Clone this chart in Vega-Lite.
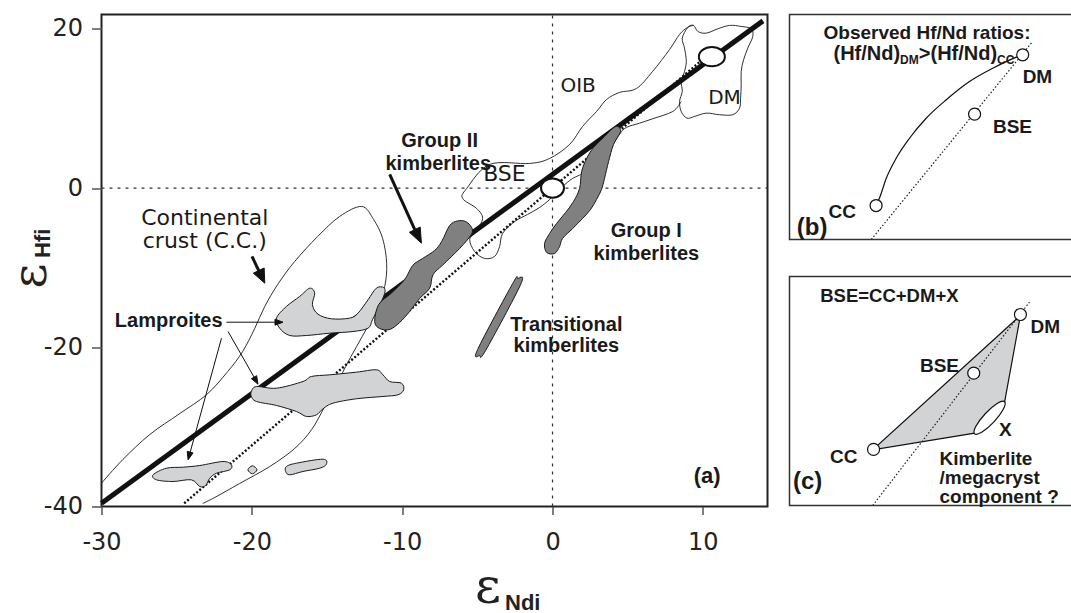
{
  "$schema": "https://vega.github.io/schema/vega-lite/v6.json",
  "padding": {"left": 6.5, "top": 9.5, "right": 0, "bottom": 0},
  "background": "white",
  "config": {"view": {"stroke": null}, "axis": {"grid": false}},
  "spacing": 14,
  "datasets": {
    "zero": [
      {"line": "v", "x": 0, "y": -40}, {"line": "v", "x": 0, "y": 21.8},
      {"line": "h", "x": -30, "y": 0}, {"line": "h", "x": 14.3, "y": 0}
    ],
    "crust": [
      {"i": 1, "x": -30.0, "y": -37.07}, {"i": 2, "x": -28.58, "y": -34.1}, {"i": 3, "x": -26.79, "y": -30.96},
      {"i": 4, "x": -24.79, "y": -28.32}, {"i": 5, "x": -23.0, "y": -25.93}, {"i": 6, "x": -21.6, "y": -23.04},
      {"i": 7, "x": -20.61, "y": -20.53}, {"i": 8, "x": -19.81, "y": -17.64}, {"i": 9, "x": -19.14, "y": -14.87},
      {"i": 10, "x": -18.28, "y": -12.11}, {"i": 11, "x": -17.15, "y": -9.22}, {"i": 12, "x": -15.62, "y": -6.08},
      {"i": 13, "x": -14.16, "y": -3.57}, {"i": 14, "x": -12.69, "y": -2.31}, {"i": 15, "x": -11.9, "y": -3.95},
      {"i": 16, "x": -11.3, "y": -6.33}, {"i": 17, "x": -11.03, "y": -9.47}, {"i": 18, "x": -11.16, "y": -12.36},
      {"i": 19, "x": -11.63, "y": -14.87}, {"i": 20, "x": -12.29, "y": -17.39}, {"i": 21, "x": -13.03, "y": -19.9},
      {"i": 22, "x": -13.76, "y": -22.41}, {"i": 23, "x": -14.42, "y": -24.93}, {"i": 24, "x": -15.15, "y": -27.44},
      {"i": 25, "x": -16.02, "y": -30.33}, {"i": 26, "x": -17.15, "y": -32.71}, {"i": 27, "x": -18.81, "y": -34.98},
      {"i": 28, "x": -20.81, "y": -37.11}, {"i": 29, "x": -22.47, "y": -38.87}, {"i": 30, "x": -23.27, "y": -39.62}
    ],
    "oib": [
      {"i": 1, "x": 8.56, "y": 10.88}, {"i": 2, "x": 8.0, "y": 9.62}, {"i": 3, "x": 6.67, "y": 8.71},
      {"i": 4, "x": 5.79, "y": 8.15}, {"i": 5, "x": 4.91, "y": 7.61}, {"i": 6, "x": 4.46, "y": 6.77},
      {"i": 7, "x": 4.0, "y": 5.48}, {"i": 8, "x": 3.13, "y": 3.72}, {"i": 9, "x": 2.27, "y": 2.09},
      {"i": 10, "x": 1.34, "y": 1.21}, {"i": 11, "x": 0.61, "y": 0.08}, {"i": 12, "x": -0.19, "y": -1.43},
      {"i": 13, "x": -0.86, "y": -2.44}, {"i": 14, "x": -1.66, "y": -3.32}, {"i": 15, "x": -2.52, "y": -4.2},
      {"i": 16, "x": -3.32, "y": -5.7}, {"i": 17, "x": -3.52, "y": -7.34}, {"i": 18, "x": -3.85, "y": -8.59},
      {"i": 19, "x": -4.52, "y": -8.84}, {"i": 20, "x": -5.18, "y": -7.97}, {"i": 21, "x": -5.51, "y": -6.46},
      {"i": 22, "x": -5.11, "y": -5.45}, {"i": 23, "x": -4.65, "y": -3.82}, {"i": 24, "x": -5.05, "y": -2.56},
      {"i": 25, "x": -5.98, "y": -1.31}, {"i": 26, "x": -5.71, "y": -0.05}, {"i": 27, "x": -4.18, "y": 2.97},
      {"i": 28, "x": -1.52, "y": 3.09}, {"i": 29, "x": -0.19, "y": 3.72}, {"i": 30, "x": 1.14, "y": 5.48},
      {"i": 31, "x": 2.0, "y": 7.74}, {"i": 32, "x": 2.93, "y": 9.62}, {"i": 33, "x": 3.6, "y": 11.13},
      {"i": 34, "x": 4.46, "y": 12.01}, {"i": 35, "x": 5.59, "y": 12.51}, {"i": 36, "x": 6.66, "y": 14.65},
      {"i": 37, "x": 7.79, "y": 17.41}, {"i": 38, "x": 8.45, "y": 19.3}, {"i": 39, "x": 8.98, "y": 20.18},
      {"i": 40, "x": 9.38, "y": 20.43}
    ],
    "dmfield": [
      {"i": 1, "x": 8.63, "y": 18.83}, {"i": 2, "x": 9.0, "y": 20.18}, {"i": 3, "x": 9.38, "y": 20.43},
      {"i": 4, "x": 9.67, "y": 19.67}, {"i": 5, "x": 10.23, "y": 19.46}, {"i": 6, "x": 11.0, "y": 20.01},
      {"i": 7, "x": 11.78, "y": 20.43}, {"i": 8, "x": 12.55, "y": 20.3}, {"i": 9, "x": 13.22, "y": 20.01},
      {"i": 10, "x": 13.32, "y": 19.05}, {"i": 11, "x": 12.99, "y": 17.58}, {"i": 12, "x": 12.71, "y": 16.12},
      {"i": 13, "x": 12.55, "y": 14.65}, {"i": 14, "x": 12.55, "y": 12.98}, {"i": 15, "x": 12.51, "y": 11.29},
      {"i": 16, "x": 12.44, "y": 10.04}, {"i": 17, "x": 11.99, "y": 9.21}, {"i": 18, "x": 11.11, "y": 9.21},
      {"i": 19, "x": 10.23, "y": 9.41}, {"i": 20, "x": 9.45, "y": 9.0}, {"i": 21, "x": 8.94, "y": 8.78},
      {"i": 22, "x": 8.56, "y": 9.62}, {"i": 23, "x": 8.45, "y": 10.88}, {"i": 24, "x": 8.63, "y": 12.14},
      {"i": 25, "x": 8.56, "y": 13.39}, {"i": 26, "x": 8.78, "y": 14.65}, {"i": 27, "x": 8.9, "y": 15.9},
      {"i": 28, "x": 8.78, "y": 17.58}
    ],
    "thick": [{"i": 1, "x": -30.0, "y": -39.6}, {"i": 2, "x": 14.0, "y": 21.0}],
    "dots": [{"i": 1, "x": -24.5, "y": -39.6}, {"i": 2, "x": 10.2, "y": 16.5}],
    "lamp": [
      {"shape": "L1", "i": 1, "x": -18.36, "y": -16.34}, {"shape": "L1", "i": 2, "x": -17.7, "y": -14.87},
      {"shape": "L1", "i": 3, "x": -16.82, "y": -13.62}, {"shape": "L1", "i": 4, "x": -16.15, "y": -12.58},
      {"shape": "L1", "i": 5, "x": -15.82, "y": -13.2}, {"shape": "L1", "i": 6, "x": -15.97, "y": -14.66},
      {"shape": "L1", "i": 7, "x": -15.6, "y": -15.84}, {"shape": "L1", "i": 8, "x": -14.71, "y": -16.42},
      {"shape": "L1", "i": 9, "x": -13.49, "y": -16.34}, {"shape": "L1", "i": 10, "x": -12.94, "y": -15.72},
      {"shape": "L1", "i": 11, "x": -12.27, "y": -14.03}, {"shape": "L1", "i": 12, "x": -11.72, "y": -12.58},
      {"shape": "L1", "i": 13, "x": -11.23, "y": -12.49}, {"shape": "L1", "i": 14, "x": -11.16, "y": -13.2},
      {"shape": "L1", "i": 15, "x": -11.54, "y": -14.87}, {"shape": "L1", "i": 16, "x": -11.98, "y": -16.55},
      {"shape": "L1", "i": 17, "x": -12.27, "y": -17.6}, {"shape": "L1", "i": 18, "x": -13.27, "y": -18.02},
      {"shape": "L1", "i": 19, "x": -14.82, "y": -18.23}, {"shape": "L1", "i": 20, "x": -16.37, "y": -18.52},
      {"shape": "L1", "i": 21, "x": -17.48, "y": -18.52}, {"shape": "L1", "i": 22, "x": -18.15, "y": -17.6},
      {"shape": "L2", "i": 1, "x": -20.03, "y": -25.55}, {"shape": "L2", "i": 2, "x": -19.69, "y": -24.93},
      {"shape": "L2", "i": 3, "x": -18.36, "y": -25.14}, {"shape": "L2", "i": 4, "x": -16.6, "y": -24.3},
      {"shape": "L2", "i": 5, "x": -16.04, "y": -23.67}, {"shape": "L2", "i": 6, "x": -14.82, "y": -23.46},
      {"shape": "L2", "i": 7, "x": -13.05, "y": -23.13}, {"shape": "L2", "i": 8, "x": -11.72, "y": -22.83},
      {"shape": "L2", "i": 9, "x": -11.28, "y": -23.46}, {"shape": "L2", "i": 10, "x": -10.83, "y": -24.3},
      {"shape": "L2", "i": 11, "x": -10.05, "y": -24.51}, {"shape": "L2", "i": 12, "x": -9.9, "y": -25.34},
      {"shape": "L2", "i": 13, "x": -10.28, "y": -25.97}, {"shape": "L2", "i": 14, "x": -11.28, "y": -26.18},
      {"shape": "L2", "i": 15, "x": -13.05, "y": -26.47}, {"shape": "L2", "i": 16, "x": -14.6, "y": -27.02},
      {"shape": "L2", "i": 17, "x": -15.27, "y": -27.73}, {"shape": "L2", "i": 18, "x": -15.7, "y": -28.48},
      {"shape": "L2", "i": 19, "x": -16.37, "y": -28.69}, {"shape": "L2", "i": 20, "x": -17.03, "y": -28.07},
      {"shape": "L2", "i": 21, "x": -18.36, "y": -27.31}, {"shape": "L2", "i": 22, "x": -19.69, "y": -26.81},
      {"shape": "L2", "i": 23, "x": -20.03, "y": -26.18},
      {"shape": "L3", "i": 1, "x": -26.57, "y": -36.02}, {"shape": "L3", "i": 2, "x": -25.68, "y": -35.19},
      {"shape": "L3", "i": 3, "x": -24.57, "y": -35.06}, {"shape": "L3", "i": 4, "x": -23.46, "y": -34.85},
      {"shape": "L3", "i": 5, "x": -21.92, "y": -34.35}, {"shape": "L3", "i": 6, "x": -21.36, "y": -34.76},
      {"shape": "L3", "i": 7, "x": -21.47, "y": -35.39}, {"shape": "L3", "i": 8, "x": -22.35, "y": -35.82},
      {"shape": "L3", "i": 9, "x": -22.8, "y": -36.45}, {"shape": "L3", "i": 10, "x": -23.07, "y": -37.36},
      {"shape": "L3", "i": 11, "x": -23.46, "y": -37.49}, {"shape": "L3", "i": 12, "x": -24.02, "y": -36.65},
      {"shape": "L3", "i": 13, "x": -25.24, "y": -36.86}, {"shape": "L3", "i": 14, "x": -26.34, "y": -36.65},
      {"shape": "L4", "i": 1, "x": -20.26, "y": -35.39}, {"shape": "L4", "i": 2, "x": -19.96, "y": -34.89},
      {"shape": "L4", "i": 3, "x": -19.66, "y": -35.39}, {"shape": "L4", "i": 4, "x": -19.96, "y": -35.89},
      {"shape": "L5", "i": 1, "x": -17.7, "y": -34.98}, {"shape": "L5", "i": 2, "x": -17.03, "y": -34.56},
      {"shape": "L5", "i": 3, "x": -15.27, "y": -34.06}, {"shape": "L5", "i": 4, "x": -15.04, "y": -34.69},
      {"shape": "L5", "i": 5, "x": -15.49, "y": -35.19}, {"shape": "L5", "i": 6, "x": -16.6, "y": -35.6},
      {"shape": "L5", "i": 7, "x": -17.48, "y": -36.02}, {"shape": "L5", "i": 8, "x": -17.75, "y": -35.6}
    ],
    "kimb": [
      {"shape": "G2", "i": 1, "x": -11.83, "y": -16.76}, {"shape": "G2", "i": 2, "x": -11.56, "y": -14.62},
      {"shape": "G2", "i": 3, "x": -10.72, "y": -13.2}, {"shape": "G2", "i": 4, "x": -9.83, "y": -11.48},
      {"shape": "G2", "i": 5, "x": -9.3, "y": -9.72}, {"shape": "G2", "i": 6, "x": -8.64, "y": -8.84},
      {"shape": "G2", "i": 7, "x": -7.84, "y": -7.84}, {"shape": "G2", "i": 8, "x": -7.37, "y": -6.71},
      {"shape": "G2", "i": 9, "x": -6.84, "y": -4.7}, {"shape": "G2", "i": 10, "x": -6.31, "y": -4.13},
      {"shape": "G2", "i": 11, "x": -5.78, "y": -4.2}, {"shape": "G2", "i": 12, "x": -5.38, "y": -4.95},
      {"shape": "G2", "i": 13, "x": -5.4, "y": -5.83}, {"shape": "G2", "i": 14, "x": -6.18, "y": -7.59},
      {"shape": "G2", "i": 15, "x": -7.29, "y": -9.64}, {"shape": "G2", "i": 16, "x": -7.95, "y": -10.89},
      {"shape": "G2", "i": 17, "x": -8.17, "y": -12.58}, {"shape": "G2", "i": 18, "x": -8.84, "y": -13.87},
      {"shape": "G2", "i": 19, "x": -9.5, "y": -15.5}, {"shape": "G2", "i": 20, "x": -10.17, "y": -16.89},
      {"shape": "G2", "i": 21, "x": -10.83, "y": -17.76}, {"shape": "G2", "i": 22, "x": -11.5, "y": -17.64},
      {"shape": "G1", "i": 1, "x": 4.33, "y": 7.74}, {"shape": "G1", "i": 2, "x": 4.53, "y": 7.11},
      {"shape": "G1", "i": 3, "x": 4.06, "y": 5.48}, {"shape": "G1", "i": 4, "x": 3.73, "y": 3.34},
      {"shape": "G1", "i": 5, "x": 3.46, "y": 1.21}, {"shape": "G1", "i": 6, "x": 3.26, "y": -0.18},
      {"shape": "G1", "i": 7, "x": 2.93, "y": -1.43}, {"shape": "G1", "i": 8, "x": 2.53, "y": -2.69},
      {"shape": "G1", "i": 9, "x": 2.0, "y": -3.82}, {"shape": "G1", "i": 10, "x": 1.34, "y": -5.08},
      {"shape": "G1", "i": 11, "x": 0.67, "y": -6.33}, {"shape": "G1", "i": 12, "x": 0.47, "y": -7.34},
      {"shape": "G1", "i": 13, "x": 0.14, "y": -8.22}, {"shape": "G1", "i": 14, "x": -0.39, "y": -8.09},
      {"shape": "G1", "i": 15, "x": -0.53, "y": -6.96}, {"shape": "G1", "i": 16, "x": -0.19, "y": -5.7},
      {"shape": "G1", "i": 17, "x": 0.27, "y": -4.45}, {"shape": "G1", "i": 18, "x": 0.87, "y": -3.07},
      {"shape": "G1", "i": 19, "x": 1.4, "y": -1.68}, {"shape": "G1", "i": 20, "x": 1.8, "y": -0.05},
      {"shape": "G1", "i": 21, "x": 1.94, "y": 2.09}, {"shape": "G1", "i": 22, "x": 2.27, "y": 3.72},
      {"shape": "G1", "i": 23, "x": 2.73, "y": 5.1}, {"shape": "G1", "i": 24, "x": 3.46, "y": 6.48},
      {"shape": "G1", "i": 25, "x": 4.0, "y": 7.49},
      {"shape": "T", "i": 1, "x": -2.32, "y": -11.36}, {"shape": "T", "i": 2, "x": -2.12, "y": -12.11},
      {"shape": "T", "i": 3, "x": -4.45, "y": -20.4}, {"shape": "T", "i": 4, "x": -4.85, "y": -21.03},
      {"shape": "T", "i": 5, "x": -4.98, "y": -20.28}, {"shape": "T", "i": 6, "x": -2.65, "y": -11.99}
    ],
    "shafts": [
      {"arrow": "g2", "kind": "thick", "i": 1, "x": -10.83, "y": 1.71}, {"arrow": "g2", "kind": "thick", "i": 2, "x": -9.16, "y": -5.23},
      {"arrow": "cc", "kind": "thick", "i": 1, "x": -19.99, "y": -8.59}, {"arrow": "cc", "kind": "thick", "i": 2, "x": -19.54, "y": -10.37},
      {"arrow": "a1", "kind": "thin", "i": 1, "x": -21.69, "y": -16.85}, {"arrow": "a1", "kind": "thin", "i": 2, "x": -18.46, "y": -16.85},
      {"arrow": "a2", "kind": "thin", "i": 1, "x": -21.58, "y": -18.02}, {"arrow": "a2", "kind": "thin", "i": 2, "x": -19.85, "y": -23.76},
      {"arrow": "a3", "kind": "thin", "i": 1, "x": -22.02, "y": -18.86}, {"arrow": "a3", "kind": "thin", "i": 2, "x": -24.1, "y": -33.17}
    ],
    "heads": [
      {"head": "g2", "i": 1, "x": -8.72, "y": -6.92}, {"head": "g2", "i": 2, "x": -9.52, "y": -5.55}, {"head": "g2", "i": 3, "x": -8.8, "y": -4.9},
      {"head": "cc", "i": 1, "x": -19.14, "y": -11.95}, {"head": "cc", "i": 2, "x": -19.9, "y": -10.69}, {"head": "cc", "i": 3, "x": -19.18, "y": -10.04},
      {"head": "a1", "i": 1, "x": -17.93, "y": -16.85}, {"head": "a1", "i": 2, "x": -18.46, "y": -16.47}, {"head": "a1", "i": 3, "x": -18.46, "y": -17.22},
      {"head": "a2", "i": 1, "x": -19.59, "y": -24.64}, {"head": "a2", "i": 2, "x": -20.03, "y": -23.94}, {"head": "a2", "i": 3, "x": -19.68, "y": -23.57},
      {"head": "a3", "i": 1, "x": -24.24, "y": -34.13}, {"head": "a3", "i": 2, "x": -24.3, "y": -33.07}, {"head": "a3", "i": 3, "x": -23.91, "y": -33.27}
    ],
    "bse": [{"x": 0, "y": 0}],
    "dmpt": [{"x": 10.6, "y": 16.5}],
    "reg20": [{"t": "OIB", "x": 1.7, "y": 12.76}, {"t": "DM", "x": 11.44, "y": 11.29}],
    "reg23": [{"t": "BSE", "x": -3.2, "y": 1.75}, {"t": "Continental", "x": -23.13, "y": -3.78}, {"t": "crust (C.C.)", "x": -23.13, "y": -6.71}],
    "bold20": [
      {"t": "Group II", "x": -7.51, "y": 5.85}, {"t": "kimberlites", "x": -7.6, "y": 2.97},
      {"t": "Group I", "x": 6.24, "y": -5.45}, {"t": "kimberlites", "x": 6.24, "y": -8.34},
      {"t": "Transitional", "x": 0.92, "y": -17.17}, {"t": "kimberlites", "x": 0.92, "y": -19.9},
      {"t": "Lamproites", "x": -25.53, "y": -16.7}
    ],
    "alabel": [{"t": "(a)", "x": 10.28, "y": -36.11}],
    "bcurve": [
      {"i": 0, "x": 30.6, "y": 15.1}, {"i": 1, "x": 31.8, "y": 18.4}, {"i": 2, "x": 34.2, "y": 27.2}, {"i": 3, "x": 37.7, "y": 36.1},
      {"i": 4, "x": 42.4, "y": 45.0}, {"i": 5, "x": 48.3, "y": 53.9}, {"i": 6, "x": 55.4, "y": 62.1},
      {"i": 7, "x": 63.6, "y": 70.2}, {"i": 8, "x": 71.8, "y": 76.1}, {"i": 9, "x": 81.3, "y": 81.6}, {"i": 10, "x": 82.4, "y": 82.1}
    ],
    "bdots": [{"i": 1, "x": 28.9, "y": 0}, {"i": 2, "x": 85.6, "y": 87.5}],
    "bpts": [{"x": 30.6, "y": 15.1}, {"x": 65.4, "y": 55.7}, {"x": 82.4, "y": 82.1}],
    "blab": [{"t": "DM", "x": 87.6, "y": 72.4}, {"t": "BSE", "x": 78.8, "y": 50.2}, {"t": "CC", "x": 18.6, "y": 12.1}],
    "btitle": [{"t": "Observed Hf/Nd ratios:", "x": 48.6, "y": 91.7}],
    "bline2": [{"t": "(Hf/Nd)", "x": 15.55, "y": 79.7}, {"t": ">(Hf/Nd)", "x": 45.69, "y": 79.7}],
    "bsub": [{"t": "DM", "x": 39.08, "y": 77.9}, {"t": "CC", "x": 73.36, "y": 77.9}],
    "bpanel": [{"t": "(b)", "x": 8.0, "y": 5.3}],
    "cpoly": [{"i": 1, "x": 81.6, "y": 83.0}, {"i": 2, "x": 29.4, "y": 24.3}, {"i": 3, "x": 65.4, "y": 31.6}, {"i": 4, "x": 76.0, "y": 45.1}],
    "cdots": [{"i": 1, "x": 29.4, "y": 0}, {"i": 2, "x": 84.8, "y": 88.8}],
    "cpts": [{"x": 81.6, "y": 83.4}, {"x": 65.1, "y": 57.8}, {"x": 29.7, "y": 24.5}],
    "cx": [{"x": 70.7, "y": 38.3}],
    "clab": [{"t": "DM", "x": 90.4, "y": 77.9}, {"t": "BSE", "x": 53.0, "y": 61.1}, {"t": "X", "x": 76.3, "y": 32.8}, {"t": "CC", "x": 19.2, "y": 21.1}],
    "ctitle": [{"t": "BSE=CC+DM+X", "x": 35.3, "y": 91.7}],
    "ckimb": [{"t": "Kimberlite", "x": 53.0, "y": 20.2}, {"t": "/megacryst", "x": 53.0, "y": 11.9}, {"t": "component ?", "x": 53.0, "y": 3.6}],
    "cpanel": [{"t": "(c)", "x": 6.4, "y": 10.2}]
  },
  "hconcat": [
    {
      "width": 666,
      "height": 492,
      "view": {"stroke": "#222", "strokeWidth": 2},
      "resolve": {"axis": {"x": "independent", "y": "independent"}},
      "layer": [
        {
          "data": {"name": "zero"},
          "mark": {"type": "line", "stroke": "#333", "strokeWidth": 1.2, "strokeDash": [3, 5]},
          "encoding": {
            "x": {"field": "x", "type": "quantitative", "scale": {"domain": [-30, 14.3], "nice": false, "zero": false},
              "axis": {"orient": "bottom", "labels": false, "ticks": false, "domain": false, "grid": false, "title": "Ndi",
                "titleFont": "Liberation Sans", "titleFontWeight": "bold", "titleFontSize": 22, "titleColor": "#222",
                "titleX": 403, "titleY": 103, "titleAlign": "left", "titleBaseline": "alphabetic"}},
            "y": {"field": "y", "type": "quantitative", "scale": {"domain": [-40, 21.8], "nice": false, "zero": false},
              "axis": {"orient": "left", "labels": false, "ticks": false, "domain": false, "grid": false, "title": "Hfi",
                "titleFont": "Liberation Sans", "titleFontWeight": "bold", "titleFontSize": 22, "titleColor": "#222",
                "titleAngle": 270, "titleX": -52, "titleY": 243, "titleAlign": "left", "titleBaseline": "alphabetic"}},
            "detail": {"field": "line"}
          }
        },
        {
          "encoding": {
            "x": {"field": "x", "type": "quantitative", "scale": {"domain": [-30, 14.3], "nice": false, "zero": false},
              "axis": {"orient": "bottom", "values": [-30, -20, -10, 0, 10], "grid": false, "domain": false,
                "tickSize": 8, "tickColor": "#555", "tickWidth": 1.5, "labelFont": "DejaVu Sans", "labelFontSize": 24,
                "labelColor": "#222", "labelPadding": 16, "labelFlush": false, "labelOverlap": false,
                "labelExpr": "'' + datum.value",
                "title": "ε", "titleFont": "DejaVu Serif", "titleFontSize": 50, "titleFontWeight": "normal", "titleColor": "#222",
                "titleX": 386, "titleY": 96, "titleAlign": "center", "titleBaseline": "alphabetic"}},
            "y": {"field": "y", "type": "quantitative", "scale": {"domain": [-40, 21.8], "nice": false, "zero": false},
              "axis": {"orient": "left", "values": [-40, -20, 0, 20], "grid": false, "domain": false,
                "tickSize": 10, "tickColor": "#555", "tickWidth": 1.5, "labelFont": "DejaVu Sans", "labelFontSize": 24,
                "labelColor": "#222", "labelPadding": 9, "labelFlush": false, "labelOverlap": false,
                "labelExpr": "'' + datum.value",
                "title": "ε", "titleFont": "DejaVu Serif", "titleFontSize": 48, "titleFontWeight": "normal", "titleColor": "#222",
                "titleAngle": 270, "titleX": -56, "titleY": 261, "titleAlign": "center", "titleBaseline": "alphabetic"}}
          },
          "layer": [
            {"data": {"name": "crust"}, "mark": {"type": "line", "stroke": "#1a1a1a", "strokeWidth": 0.9, "interpolate": "cardinal"},
              "encoding": {"order": {"field": "i", "type": "quantitative"}}},
            {"data": {"name": "oib"}, "mark": {"type": "line", "stroke": "#1a1a1a", "strokeWidth": 0.9, "interpolate": "cardinal"},
              "encoding": {"order": {"field": "i", "type": "quantitative"}}},
            {"data": {"name": "dmfield"}, "mark": {"type": "line", "stroke": "#1a1a1a", "strokeWidth": 0.9, "interpolate": "cardinal-closed"},
              "encoding": {"order": {"field": "i", "type": "quantitative"}}},
            {"data": {"name": "thick"}, "mark": {"type": "line", "stroke": "#111", "strokeWidth": 5, "strokeCap": "butt"},
              "encoding": {"order": {"field": "i", "type": "quantitative"}}},
            {"data": {"name": "dots"}, "mark": {"type": "line", "stroke": "#111", "strokeWidth": 2.4, "strokeDash": [2, 2], "strokeCap": "butt"},
              "encoding": {"order": {"field": "i", "type": "quantitative"}}},
            {"data": {"name": "lamp"}, "mark": {"type": "line", "fill": "#d2d3d5", "stroke": "#1a1a1a", "strokeWidth": 1, "interpolate": "cardinal-closed"},
              "encoding": {"order": {"field": "i", "type": "quantitative"}, "detail": {"field": "shape"}}},
            {"data": {"name": "kimb"}, "mark": {"type": "line", "fill": "#808080", "stroke": "#1a1a1a", "strokeWidth": 1, "interpolate": "cardinal-closed"},
              "encoding": {"order": {"field": "i", "type": "quantitative"}, "detail": {"field": "shape"}}},
            {"data": {"name": "shafts"}, "transform": [{"filter": "datum.kind === 'thick'"}],
              "mark": {"type": "line", "stroke": "#111", "strokeWidth": 3},
              "encoding": {"order": {"field": "i", "type": "quantitative"}, "detail": {"field": "arrow"}}},
            {"data": {"name": "shafts"}, "transform": [{"filter": "datum.kind === 'thin'"}],
              "mark": {"type": "line", "stroke": "#111", "strokeWidth": 1},
              "encoding": {"order": {"field": "i", "type": "quantitative"}, "detail": {"field": "arrow"}}},
            {"data": {"name": "heads"}, "mark": {"type": "line", "fill": "#111", "stroke": "#111", "strokeWidth": 1, "interpolate": "linear-closed"},
              "encoding": {"order": {"field": "i", "type": "quantitative"}, "detail": {"field": "head"}}},
            {"data": {"name": "bse"}, "mark": {"type": "point", "shape": "M -1 0 A 1 0.84 0 1 1 1 0 A 1 0.84 0 1 1 -1 0 Z", "size": 529, "filled": true, "fill": "white", "stroke": "#111", "strokeWidth": 2, "opacity": 1}},
            {"data": {"name": "dmpt"}, "mark": {"type": "point", "shape": "M -1 0 A 1 0.74 0 1 1 1 0 A 1 0.74 0 1 1 -1 0 Z", "size": 676, "filled": true, "fill": "white", "stroke": "#111", "strokeWidth": 2, "opacity": 1}},
            {"data": {"name": "reg20"}, "mark": {"type": "text", "font": "DejaVu Sans", "fontSize": 20, "color": "#1a1a1a", "align": "center", "baseline": "middle"},
              "encoding": {"text": {"field": "t"}}},
            {"data": {"name": "reg23"}, "mark": {"type": "text", "font": "DejaVu Sans", "fontSize": 22, "color": "#1a1a1a", "align": "center", "baseline": "middle"},
              "encoding": {"text": {"field": "t"}}},
            {"data": {"name": "bold20"}, "mark": {"type": "text", "font": "Liberation Sans", "fontWeight": "bold", "fontSize": 20, "color": "#1a1a1a", "align": "center", "baseline": "middle"},
              "encoding": {"text": {"field": "t"}}},
            {"data": {"name": "alabel"}, "mark": {"type": "text", "font": "Liberation Sans", "fontWeight": "bold", "fontSize": 22, "color": "#1a1a1a", "align": "center", "baseline": "middle"},
              "encoding": {"text": {"field": "t"}}}
          ]
        }
      ]
    },
    {
      "spacing": 32,
      "vconcat": [
        {
          "width": 283,
          "height": 225,
          "view": {"stroke": "#333", "strokeWidth": 1.5},
          "encoding": {
            "x": {"field": "x", "type": "quantitative", "scale": {"domain": [0, 100], "nice": false, "zero": false}, "axis": null},
            "y": {"field": "y", "type": "quantitative", "scale": {"domain": [0, 100], "nice": false, "zero": false}, "axis": null}
          },
          "layer": [
            {"data": {"name": "bdots"}, "mark": {"type": "line", "stroke": "#222", "strokeWidth": 1.2, "strokeDash": [1.5, 2]},
              "encoding": {"order": {"field": "i", "type": "quantitative"}}},
            {"data": {"name": "bcurve"}, "mark": {"type": "line", "stroke": "#111", "strokeWidth": 1.2, "interpolate": "monotone"},
              "encoding": {"order": {"field": "i", "type": "quantitative"}}},
            {"data": {"name": "bpts"}, "mark": {"type": "point", "shape": "circle", "size": 144, "filled": true, "fill": "white", "stroke": "#111", "strokeWidth": 1.2, "opacity": 1}},
            {"data": {"name": "blab"}, "mark": {"type": "text", "font": "Liberation Sans", "fontWeight": "bold", "fontSize": 19, "color": "#1a1a1a", "align": "center", "baseline": "middle"},
              "encoding": {"text": {"field": "t"}}},
            {"data": {"name": "btitle"}, "mark": {"type": "text", "font": "Liberation Sans", "fontWeight": "bold", "fontSize": 19, "color": "#1a1a1a", "align": "center", "baseline": "middle"},
              "encoding": {"text": {"field": "t"}}},
            {"data": {"name": "bline2"}, "mark": {"type": "text", "font": "Liberation Sans", "fontWeight": "bold", "fontSize": 20, "color": "#1a1a1a", "align": "left", "baseline": "alphabetic"},
              "encoding": {"text": {"field": "t"}}},
            {"data": {"name": "bsub"}, "mark": {"type": "text", "font": "Liberation Sans", "fontWeight": "bold", "fontSize": 12, "color": "#1a1a1a", "align": "left", "baseline": "alphabetic"},
              "encoding": {"text": {"field": "t"}}},
            {"data": {"name": "bpanel"}, "mark": {"type": "text", "font": "Liberation Sans", "fontWeight": "bold", "fontSize": 24, "color": "#1a1a1a", "align": "center", "baseline": "middle"},
              "encoding": {"text": {"field": "t"}}}
          ]
        },
        {
          "width": 283,
          "height": 229,
          "view": {"stroke": "#333", "strokeWidth": 1.5},
          "encoding": {
            "x": {"field": "x", "type": "quantitative", "scale": {"domain": [0, 100], "nice": false, "zero": false}, "axis": null},
            "y": {"field": "y", "type": "quantitative", "scale": {"domain": [0, 100], "nice": false, "zero": false}, "axis": null}
          },
          "layer": [
            {"data": {"name": "cpoly"}, "mark": {"type": "line", "fill": "#d2d3d5", "stroke": "#111", "strokeWidth": 1.2, "interpolate": "linear-closed"},
              "encoding": {"order": {"field": "i", "type": "quantitative"}}},
            {"data": {"name": "cdots"}, "mark": {"type": "line", "stroke": "#222", "strokeWidth": 1.2, "strokeDash": [1.5, 2]},
              "encoding": {"order": {"field": "i", "type": "quantitative"}}},
            {"data": {"name": "cpts"}, "mark": {"type": "point", "shape": "circle", "size": 144, "filled": true, "fill": "white", "stroke": "#111", "strokeWidth": 1.2, "opacity": 1}},
            {"data": {"name": "cx"}, "mark": {"type": "point", "shape": "M -1 0 A 1 0.27 0 1 1 1 0 A 1 0.27 0 1 1 -1 0 Z", "size": 1936, "angle": -47, "filled": true, "fill": "white", "stroke": "#111", "strokeWidth": 1.2, "opacity": 1}},
            {"data": {"name": "clab"}, "mark": {"type": "text", "font": "Liberation Sans", "fontWeight": "bold", "fontSize": 19, "color": "#1a1a1a", "align": "center", "baseline": "middle"},
              "encoding": {"text": {"field": "t"}}},
            {"data": {"name": "ctitle"}, "mark": {"type": "text", "font": "Liberation Sans", "fontWeight": "bold", "fontSize": 18.5, "color": "#1a1a1a", "align": "center", "baseline": "middle"},
              "encoding": {"text": {"field": "t"}}},
            {"data": {"name": "ckimb"}, "mark": {"type": "text", "font": "Liberation Sans", "fontWeight": "bold", "fontSize": 19, "color": "#1a1a1a", "align": "left", "baseline": "middle"},
              "encoding": {"text": {"field": "t"}}},
            {"data": {"name": "cpanel"}, "mark": {"type": "text", "font": "Liberation Sans", "fontWeight": "bold", "fontSize": 24, "color": "#1a1a1a", "align": "center", "baseline": "middle"},
              "encoding": {"text": {"field": "t"}}}
          ]
        }
      ]
    }
  ]
}
